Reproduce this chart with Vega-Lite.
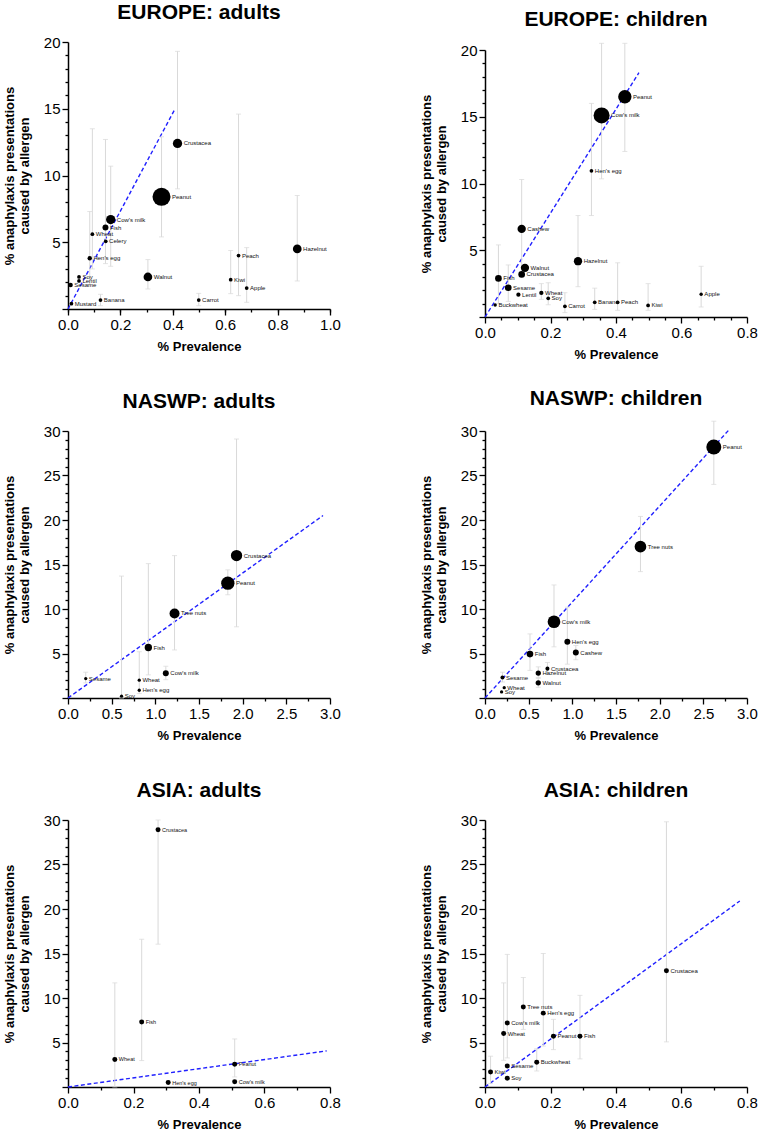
{
  "$schema": "https://vega.github.io/schema/vega-lite/v6.json",
  "padding": {"left": 3, "top": 2, "right": 5, "bottom": 5},
  "background": "white",
  "config": {
    "font": "Liberation Sans",
    "view": {"stroke": null},
    "title": {"font": "Liberation Sans", "fontSize": 21, "fontWeight": "bold", "color": "#000", "frame": "group", "anchor": "middle", "offset": 12},
    "axis": {"grid": false, "domainColor": "#000", "domainWidth": 1.5, "tickColor": "#000", "tickWidth": 1.3, "labelFont": "Liberation Sans", "labelFontSize": 15, "labelColor": "#000", "labelPadding": 2, "labelOverlap": false, "labelFlush": false, "titleFont": "Liberation Sans", "titleFontSize": 13, "titleFontWeight": "bold", "titleColor": "#000", "titleLineHeight": 15}
  },
  "datasets": {
    "fits": [
      {"panel": "EA", "x": 0, "y": 0}, {"panel": "EA", "x": 0.406, "y": 14.9},
      {"panel": "EC", "x": 0, "y": 0}, {"panel": "EC", "x": 0.47, "y": 18.3},
      {"panel": "NA", "x": 0, "y": 0}, {"panel": "NA", "x": 2.92, "y": 20.5},
      {"panel": "NC", "x": 0, "y": 0}, {"panel": "NC", "x": 2.8, "y": 30.2},
      {"panel": "AA", "x": 0, "y": 0}, {"panel": "AA", "x": 0.79, "y": 4.06},
      {"panel": "AC", "x": 0, "y": 0}, {"panel": "AC", "x": 0.778, "y": 20.9}
    ],
    "pts": [
      {"panel": "EA", "allergen": "Crustacea", "x": 0.418, "y": 12.4, "lo": 9.0, "hi": 19.3, "w": 8},
      {"panel": "EA", "allergen": "Peanut", "x": 0.357, "y": 8.4, "lo": 5.4, "hi": 12.9, "w": 30},
      {"panel": "EA", "allergen": "Cow's milk", "x": 0.163, "y": 6.7, "lo": 3.2, "hi": 10.7, "w": 8},
      {"panel": "EA", "allergen": "Fish", "x": 0.143, "y": 6.1, "lo": 3.4, "hi": 12.7, "w": 3.3},
      {"panel": "EA", "allergen": "Wheat", "x": 0.093, "y": 5.6, "lo": 3.0, "hi": 13.5, "w": 1.3},
      {"panel": "EA", "allergen": "Celery", "x": 0.144, "y": 5.07, "lo": null, "hi": null, "w": 1.3},
      {"panel": "EA", "allergen": "Hen's egg", "x": 0.083, "y": 3.8, "lo": 1.8, "hi": 7.3, "w": 1.8},
      {"panel": "EA", "allergen": "Soy", "x": 0.042, "y": 2.4, "lo": null, "hi": null, "w": 1.3},
      {"panel": "EA", "allergen": "Lentil", "x": 0.042, "y": 2.1, "lo": null, "hi": null, "w": 1.3},
      {"panel": "EA", "allergen": "Sesame", "x": 0.01, "y": 1.8, "lo": null, "hi": null, "w": 1.8},
      {"panel": "EA", "allergen": "Mustard", "x": 0.013, "y": 0.4, "lo": null, "hi": null, "w": 1.3},
      {"panel": "EA", "allergen": "Banana", "x": 0.124, "y": 0.67, "lo": 0.25, "hi": 1.1, "w": 1.3},
      {"panel": "EA", "allergen": "Walnut", "x": 0.305, "y": 2.4, "lo": 1.5, "hi": 3.7, "w": 7},
      {"panel": "EA", "allergen": "Carrot", "x": 0.499, "y": 0.67, "lo": 0.25, "hi": 1.17, "w": 1.3},
      {"panel": "EA", "allergen": "Kiwi", "x": 0.621, "y": 2.2, "lo": 1.15, "hi": 4.38, "w": 1.3},
      {"panel": "EA", "allergen": "Peach", "x": 0.651, "y": 4.0, "lo": 1.0, "hi": 14.6, "w": 1.3},
      {"panel": "EA", "allergen": "Apple", "x": 0.682, "y": 1.57, "lo": 0.5, "hi": 4.6, "w": 1.3},
      {"panel": "EA", "allergen": "Hazelnut", "x": 0.875, "y": 4.5, "lo": 2.1, "hi": 8.5, "w": 7},

      {"panel": "EC", "allergen": "Peanut", "x": 0.427, "y": 16.5, "lo": 12.4, "hi": 20.5, "w": 16.5},
      {"panel": "EC", "allergen": "Cow's milk", "x": 0.356, "y": 15.1, "lo": 10.35, "hi": 20.5, "w": 23.7},
      {"panel": "EC", "allergen": "Hen's egg", "x": 0.325, "y": 10.95, "lo": 7.6, "hi": 16.0, "w": 1.3},
      {"panel": "EC", "allergen": "Cashew", "x": 0.112, "y": 6.6, "lo": 3.0, "hi": 10.3, "w": 6.4},
      {"panel": "EC", "allergen": "Hazelnut", "x": 0.284, "y": 4.18, "lo": 2.27, "hi": 7.6, "w": 6.4},
      {"panel": "EC", "allergen": "Walnut", "x": 0.122, "y": 3.68, "lo": null, "hi": null, "w": 6.4},
      {"panel": "EC", "allergen": "Crustacea", "x": 0.112, "y": 3.19, "lo": null, "hi": null, "w": 4.1},
      {"panel": "EC", "allergen": "Fish", "x": 0.041, "y": 2.89, "lo": 1.0, "hi": 5.4, "w": 4.1},
      {"panel": "EC", "allergen": "Sesame", "x": 0.071, "y": 2.19, "lo": 1.17, "hi": 3.9, "w": 4.1},
      {"panel": "EC", "allergen": "Lentil", "x": 0.102, "y": 1.67, "lo": null, "hi": null, "w": 1.7},
      {"panel": "EC", "allergen": "Wheat", "x": 0.172, "y": 1.8, "lo": 1.32, "hi": 2.5, "w": 1.7},
      {"panel": "EC", "allergen": "Soy", "x": 0.193, "y": 1.4, "lo": 0.92, "hi": 2.57, "w": 1.3},
      {"panel": "EC", "allergen": "Carrot", "x": 0.244, "y": 0.8, "lo": 0.33, "hi": 1.82, "w": 1.3},
      {"panel": "EC", "allergen": "Banana", "x": 0.335, "y": 1.1, "lo": 0.57, "hi": 2.16, "w": 1.3},
      {"panel": "EC", "allergen": "Peach", "x": 0.405, "y": 1.1, "lo": 0.5, "hi": 4.06, "w": 1.3},
      {"panel": "EC", "allergen": "Kiwi", "x": 0.498, "y": 0.87, "lo": 0.5, "hi": 2.5, "w": 1.3},
      {"panel": "EC", "allergen": "Apple", "x": 0.66, "y": 1.7, "lo": 0.75, "hi": 3.8, "w": 1.1},
      {"panel": "EC", "allergen": "Buckwheat", "x": 0.031, "y": 0.9, "lo": null, "hi": null, "w": 1.1},

      {"panel": "NA", "allergen": "Crustacea", "x": 1.93, "y": 16.0, "lo": 8.0, "hi": 29.1, "w": 11.9},
      {"panel": "NA", "allergen": "Peanut", "x": 1.83, "y": 12.9, "lo": 11.6, "hi": 14.4, "w": 16.5},
      {"panel": "NA", "allergen": "Tree nuts", "x": 1.22, "y": 9.5, "lo": 5.4, "hi": 16.0, "w": 9.3},
      {"panel": "NA", "allergen": "Fish", "x": 0.92, "y": 5.67, "lo": 2.6, "hi": 15.1, "w": 5},
      {"panel": "NA", "allergen": "Cow's milk", "x": 1.12, "y": 2.78, "lo": 2.06, "hi": 3.57, "w": 3.3},
      {"panel": "NA", "allergen": "Wheat", "x": 0.816, "y": 2.0, "lo": 0.5, "hi": 5.2, "w": 1},
      {"panel": "NA", "allergen": "Hen's egg", "x": 0.816, "y": 0.87, "lo": null, "hi": null, "w": 1},
      {"panel": "NA", "allergen": "Soy", "x": 0.613, "y": 0.2, "lo": 0, "hi": 13.7, "w": 1},
      {"panel": "NA", "allergen": "Sesame", "x": 0.203, "y": 2.18, "lo": 1.7, "hi": 2.9, "w": 1},

      {"panel": "NC", "allergen": "Peanut", "x": 2.62, "y": 28.2, "lo": 24.0, "hi": 31.1, "w": 20.8},
      {"panel": "NC", "allergen": "Tree nuts", "x": 1.78, "y": 17.0, "lo": 14.2, "hi": 20.4, "w": 12.6},
      {"panel": "NC", "allergen": "Cow's milk", "x": 0.79, "y": 8.57, "lo": 5.75, "hi": 12.7, "w": 14.9},
      {"panel": "NC", "allergen": "Hen's egg", "x": 0.943, "y": 6.31, "lo": 3.8, "hi": 10.2, "w": 3.3},
      {"panel": "NC", "allergen": "Cashew", "x": 1.04, "y": 5.1, "lo": 4.3, "hi": 5.9, "w": 3.3},
      {"panel": "NC", "allergen": "Fish", "x": 0.515, "y": 4.93, "lo": 3.1, "hi": 7.2, "w": 4.1},
      {"panel": "NC", "allergen": "Crustacea", "x": 0.715, "y": 3.3, "lo": 2.67, "hi": 4.0, "w": 1.5},
      {"panel": "NC", "allergen": "Hazelnut", "x": 0.61, "y": 2.8, "lo": 2.3, "hi": 3.5, "w": 2.6},
      {"panel": "NC", "allergen": "Walnut", "x": 0.61, "y": 1.7, "lo": 1.2, "hi": 2.2, "w": 2.6},
      {"panel": "NC", "allergen": "Sesame", "x": 0.2, "y": 2.3, "lo": 1.8, "hi": 2.9, "w": 1.5},
      {"panel": "NC", "allergen": "Wheat", "x": 0.22, "y": 1.16, "lo": null, "hi": null, "w": 1},
      {"panel": "NC", "allergen": "Soy", "x": 0.19, "y": 0.68, "lo": null, "hi": null, "w": 1},

      {"panel": "AA", "allergen": "Crustacea", "x": 0.275, "y": 28.9, "lo": 16.05, "hi": 30, "w": 2.3},
      {"panel": "AA", "allergen": "Fish", "x": 0.225, "y": 7.3, "lo": 2.97, "hi": 16.6, "w": 2.3},
      {"panel": "AA", "allergen": "Wheat", "x": 0.143, "y": 3.09, "lo": 0, "hi": 11.7, "w": 2.3},
      {"panel": "AA", "allergen": "Peanut", "x": 0.509, "y": 2.56, "lo": 1.13, "hi": 5.4, "w": 2.3},
      {"panel": "AA", "allergen": "Hen's egg", "x": 0.306, "y": 0.5, "lo": null, "hi": null, "w": 2.3},
      {"panel": "AA", "allergen": "Cow's milk", "x": 0.509, "y": 0.6, "lo": null, "hi": null, "w": 2.3},

      {"panel": "AC", "allergen": "Crustacea", "x": 0.554, "y": 13.05, "lo": 5.07, "hi": 29.8, "w": 2.3},
      {"panel": "AC", "allergen": "Tree nuts", "x": 0.117, "y": 9.0, "lo": 6.47, "hi": 12.3, "w": 2.3},
      {"panel": "AC", "allergen": "Hen's egg", "x": 0.178, "y": 8.3, "lo": 4.6, "hi": 15.0, "w": 2.3},
      {"panel": "AC", "allergen": "Cow's milk", "x": 0.068, "y": 7.2, "lo": 3.27, "hi": 14.9, "w": 2.3},
      {"panel": "AC", "allergen": "Wheat", "x": 0.057, "y": 6.0, "lo": 3.0, "hi": 11.7, "w": 2.3},
      {"panel": "AC", "allergen": "Peanut", "x": 0.209, "y": 5.7, "lo": 4.2, "hi": 7.6, "w": 2.3},
      {"panel": "AC", "allergen": "Fish", "x": 0.29, "y": 5.7, "lo": 3.16, "hi": 10.3, "w": 2.3},
      {"panel": "AC", "allergen": "Buckwheat", "x": 0.158, "y": 2.78, "lo": 1.8, "hi": 4.3, "w": 2.3},
      {"panel": "AC", "allergen": "Sesame", "x": 0.068, "y": 2.37, "lo": null, "hi": null, "w": 2.3},
      {"panel": "AC", "allergen": "Kiwi", "x": 0.017, "y": 1.69, "lo": 0.4, "hi": 3.46, "w": 2.3},
      {"panel": "AC", "allergen": "Soy", "x": 0.068, "y": 0.98, "lo": null, "hi": null, "w": 2.3}
    ]
  },
  "columns": 2,
  "spacing": {"row": 122, "column": 155},
  "bounds": "flush",
  "concat": [
    {
      "title": "EUROPE: adults", "width": 262, "height": 267,
      "resolve": {"axis": {"x": "independent", "y": "independent"}},
      "layer": [
        {"data": {"name": "fits"}, "transform": [{"filter": "datum.panel == 'EA'"}],
         "mark": {"type": "line", "color": "#2020ff", "strokeDash": [4, 2.5], "strokeWidth": 1.4},
         "encoding": {
           "x": {"field": "x", "type": "quantitative", "scale": {"domain": [0, 1], "nice": false},
                 "axis": {"orient": "bottom", "title": "% Prevalence", "values": [0, 0.2, 0.4, 0.6, 0.8, 1.0], "format": ".1f", "tickSize": 6, "titlePadding": 8}},
           "y": {"field": "y", "type": "quantitative", "scale": {"domain": [0, 20], "nice": false},
                 "axis": {"orient": "left", "title": ["% anaphylaxis presentations", "caused by allergen"], "values": [0, 5, 10, 15, 20], "labelExpr": "datum.value > 0 ? datum.label : ''", "tickSize": 6, "titlePadding": 12}}}},
        {"data": {"name": "pts"}, "transform": [{"filter": "datum.panel == 'EA' && isValid(datum.lo)"}],
         "mark": {"type": "errorbar", "color": "#d9d9d9", "ticks": {"size": 5, "color": "#d9d9d9"}, "rule": {"color": "#d9d9d9", "strokeWidth": 1}},
         "encoding": {"x": {"field": "x", "type": "quantitative", "axis": null}, "y": {"field": "lo", "type": "quantitative", "axis": null}, "y2": {"field": "hi"}}},
        {"data": {"name": "pts"}, "transform": [{"filter": "datum.panel == 'EA'"}],
         "mark": {"type": "circle", "color": "#000", "opacity": 1},
         "encoding": {
           "x": {"field": "x", "type": "quantitative", "axis": {"orient": "bottom", "title": null, "labels": false, "domain": false, "tickSize": 3, "values": [0, 0.1, 0.2, 0.3, 0.4, 0.5, 0.6, 0.7, 0.8, 0.9, 1.0]}},
           "y": {"field": "y", "type": "quantitative", "axis": {"orient": "left", "title": null, "labels": false, "domain": false, "tickSize": 3, "values": [1,2,3,4,6,7,8,9,11,12,13,14,16,17,18,19]}},
           "size": {"field": "w", "type": "quantitative", "scale": {"domain": [0, 30], "range": [0, 324]}, "legend": null}}},
        {"data": {"name": "pts"}, "transform": [{"filter": "datum.panel == 'EA'"}],
         "mark": {"type": "text", "align": "left", "baseline": "middle", "fontSize": 6, "color": "#111", "dx": {"expr": "sqrt(10.8*datum.w)/2+1.5"}},
         "encoding": {"x": {"field": "x", "type": "quantitative", "axis": null}, "y": {"field": "y", "type": "quantitative", "axis": null}, "text": {"field": "allergen"}}}
      ]
    },
    {
      "title": "EUROPE: children", "width": 262, "height": 267,
      "resolve": {"axis": {"x": "independent", "y": "independent"}},
      "layer": [
        {"data": {"name": "fits"}, "transform": [{"filter": "datum.panel == 'EC'"}],
         "mark": {"type": "line", "color": "#2020ff", "strokeDash": [4, 2.5], "strokeWidth": 1.4},
         "encoding": {
           "x": {"field": "x", "type": "quantitative", "scale": {"domain": [0, 0.8], "nice": false},
                 "axis": {"orient": "bottom", "offset": 8, "title": "% Prevalence", "values": [0, 0.2, 0.4, 0.6, 0.8], "format": ".1f", "tickSize": 6, "titlePadding": 8}},
           "y": {"field": "y", "type": "quantitative", "scale": {"domain": [0, 20], "nice": false, "range": [275, 8]},
                 "axis": {"orient": "left", "title": ["% anaphylaxis presentations", "caused by allergen"], "values": [0, 5, 10, 15, 20], "labelExpr": "datum.value > 0 ? datum.label : ''", "tickSize": 6, "titlePadding": 12}}}},
        {"data": {"name": "pts"}, "transform": [{"filter": "datum.panel == 'EC' && isValid(datum.lo)"}],
         "mark": {"type": "errorbar", "color": "#d9d9d9", "ticks": {"size": 5, "color": "#d9d9d9"}, "rule": {"color": "#d9d9d9", "strokeWidth": 1}},
         "encoding": {"x": {"field": "x", "type": "quantitative", "axis": null}, "y": {"field": "lo", "type": "quantitative", "axis": null}, "y2": {"field": "hi"}}},
        {"data": {"name": "pts"}, "transform": [{"filter": "datum.panel == 'EC'"}],
         "mark": {"type": "circle", "color": "#000", "opacity": 1},
         "encoding": {
           "x": {"field": "x", "type": "quantitative", "axis": {"orient": "bottom", "offset": 8, "title": null, "labels": false, "domain": false, "tickSize": 3, "values": [0.05, 0.1, 0.15, 0.25, 0.3, 0.35, 0.45, 0.5, 0.55, 0.65, 0.7, 0.75]}},
           "y": {"field": "y", "type": "quantitative", "axis": {"orient": "left", "title": null, "labels": false, "domain": false, "tickSize": 3, "values": [1,2,3,4,6,7,8,9,11,12,13,14,16,17,18,19]}},
           "size": {"field": "w", "type": "quantitative", "scale": {"domain": [0, 30], "range": [0, 324]}, "legend": null}}},
        {"data": {"name": "pts"}, "transform": [{"filter": "datum.panel == 'EC'"}],
         "mark": {"type": "text", "align": "left", "baseline": "middle", "fontSize": 6, "color": "#111", "dx": {"expr": "sqrt(10.8*datum.w)/2+1.5"}},
         "encoding": {"x": {"field": "x", "type": "quantitative", "axis": null}, "y": {"field": "y", "type": "quantitative", "axis": null}, "text": {"field": "allergen"}}}
      ]
    },
    {
      "title": "NASWP: adults", "width": 262, "height": 267,
      "resolve": {"axis": {"x": "independent", "y": "independent"}},
      "layer": [
        {"data": {"name": "fits"}, "transform": [{"filter": "datum.panel == 'NA'"}],
         "mark": {"type": "line", "color": "#2020ff", "strokeDash": [4, 2.5], "strokeWidth": 1.4},
         "encoding": {
           "x": {"field": "x", "type": "quantitative", "scale": {"domain": [0, 3], "nice": false},
                 "axis": {"orient": "bottom", "title": "% Prevalence", "values": [0, 0.5, 1, 1.5, 2, 2.5, 3], "format": ".1f", "tickSize": 6, "titlePadding": 8}},
           "y": {"field": "y", "type": "quantitative", "scale": {"domain": [0, 30], "nice": false},
                 "axis": {"orient": "left", "title": ["% anaphylaxis presentations", "caused by allergen"], "values": [0, 5, 10, 15, 20, 25, 30], "labelExpr": "datum.value > 0 ? datum.label : ''", "tickSize": 6, "titlePadding": 12}}}},
        {"data": {"name": "pts"}, "transform": [{"filter": "datum.panel == 'NA' && isValid(datum.lo)"}],
         "mark": {"type": "errorbar", "color": "#d9d9d9", "ticks": {"size": 5, "color": "#d9d9d9"}, "rule": {"color": "#d9d9d9", "strokeWidth": 1}},
         "encoding": {"x": {"field": "x", "type": "quantitative", "axis": null}, "y": {"field": "lo", "type": "quantitative", "axis": null}, "y2": {"field": "hi"}}},
        {"data": {"name": "pts"}, "transform": [{"filter": "datum.panel == 'NA'"}],
         "mark": {"type": "circle", "color": "#000", "opacity": 1},
         "encoding": {
           "x": {"field": "x", "type": "quantitative", "axis": {"orient": "bottom", "title": null, "labels": false, "domain": false, "tickSize": 3, "values": [0.25, 0.75, 1.25, 1.75, 2.25, 2.75]}},
           "y": {"field": "y", "type": "quantitative", "axis": {"orient": "left", "title": null, "labels": false, "domain": false, "tickSize": 3, "values": [1,2,3,4,6,7,8,9,11,12,13,14,16,17,18,19,21,22,23,24,26,27,28,29]}},
           "size": {"field": "w", "type": "quantitative", "scale": {"domain": [0, 30], "range": [0, 324]}, "legend": null}}},
        {"data": {"name": "pts"}, "transform": [{"filter": "datum.panel == 'NA'"}],
         "mark": {"type": "text", "align": "left", "baseline": "middle", "fontSize": 6, "color": "#111", "dx": {"expr": "sqrt(10.8*datum.w)/2+1.5"}},
         "encoding": {"x": {"field": "x", "type": "quantitative", "axis": null}, "y": {"field": "y", "type": "quantitative", "axis": null}, "text": {"field": "allergen"}}}
      ]
    },
    {
      "title": "NASWP: children", "width": 262, "height": 267,
      "resolve": {"axis": {"x": "independent", "y": "independent"}},
      "layer": [
        {"data": {"name": "fits"}, "transform": [{"filter": "datum.panel == 'NC'"}],
         "mark": {"type": "line", "color": "#2020ff", "strokeDash": [4, 2.5], "strokeWidth": 1.4},
         "encoding": {
           "x": {"field": "x", "type": "quantitative", "scale": {"domain": [0, 3], "nice": false},
                 "axis": {"orient": "bottom", "title": "% Prevalence", "values": [0, 0.5, 1, 1.5, 2, 2.5, 3], "format": ".1f", "tickSize": 6, "titlePadding": 8}},
           "y": {"field": "y", "type": "quantitative", "scale": {"domain": [0, 30], "nice": false},
                 "axis": {"orient": "left", "title": ["% anaphylaxis presentations", "caused by allergen"], "values": [0, 5, 10, 15, 20, 25, 30], "labelExpr": "datum.value > 0 ? datum.label : ''", "tickSize": 6, "titlePadding": 12}}}},
        {"data": {"name": "pts"}, "transform": [{"filter": "datum.panel == 'NC' && isValid(datum.lo)"}],
         "mark": {"type": "errorbar", "color": "#d9d9d9", "ticks": {"size": 5, "color": "#d9d9d9"}, "rule": {"color": "#d9d9d9", "strokeWidth": 1}},
         "encoding": {"x": {"field": "x", "type": "quantitative", "axis": null}, "y": {"field": "lo", "type": "quantitative", "axis": null}, "y2": {"field": "hi"}}},
        {"data": {"name": "pts"}, "transform": [{"filter": "datum.panel == 'NC'"}],
         "mark": {"type": "circle", "color": "#000", "opacity": 1},
         "encoding": {
           "x": {"field": "x", "type": "quantitative", "axis": {"orient": "bottom", "title": null, "labels": false, "domain": false, "tickSize": 3, "values": [0.25, 0.75, 1.25, 1.75, 2.25, 2.75]}},
           "y": {"field": "y", "type": "quantitative", "axis": {"orient": "left", "title": null, "labels": false, "domain": false, "tickSize": 3, "values": [1,2,3,4,6,7,8,9,11,12,13,14,16,17,18,19,21,22,23,24,26,27,28,29]}},
           "size": {"field": "w", "type": "quantitative", "scale": {"domain": [0, 30], "range": [0, 324]}, "legend": null}}},
        {"data": {"name": "pts"}, "transform": [{"filter": "datum.panel == 'NC'"}],
         "mark": {"type": "text", "align": "left", "baseline": "middle", "fontSize": 6, "color": "#111", "dx": {"expr": "sqrt(10.8*datum.w)/2+1.5"}},
         "encoding": {"x": {"field": "x", "type": "quantitative", "axis": null}, "y": {"field": "y", "type": "quantitative", "axis": null}, "text": {"field": "allergen"}}}
      ]
    },
    {
      "title": "ASIA: adults", "width": 262, "height": 267,
      "resolve": {"axis": {"x": "independent", "y": "independent"}},
      "layer": [
        {"data": {"name": "fits"}, "transform": [{"filter": "datum.panel == 'AA'"}],
         "mark": {"type": "line", "color": "#2020ff", "strokeDash": [4, 2.5], "strokeWidth": 1.4},
         "encoding": {
           "x": {"field": "x", "type": "quantitative", "scale": {"domain": [0, 0.8], "nice": false},
                 "axis": {"orient": "bottom", "title": "% Prevalence", "values": [0, 0.2, 0.4, 0.6, 0.8], "format": ".1f", "tickSize": 6, "titlePadding": 8}},
           "y": {"field": "y", "type": "quantitative", "scale": {"domain": [0, 30], "nice": false},
                 "axis": {"orient": "left", "title": ["% anaphylaxis presentations", "caused by allergen"], "values": [0, 5, 10, 15, 20, 25, 30], "labelExpr": "datum.value > 0 ? datum.label : ''", "tickSize": 6, "titlePadding": 12}}}},
        {"data": {"name": "pts"}, "transform": [{"filter": "datum.panel == 'AA' && isValid(datum.lo)"}],
         "mark": {"type": "errorbar", "color": "#d9d9d9", "ticks": {"size": 5, "color": "#d9d9d9"}, "rule": {"color": "#d9d9d9", "strokeWidth": 1}},
         "encoding": {"x": {"field": "x", "type": "quantitative", "axis": null}, "y": {"field": "lo", "type": "quantitative", "axis": null}, "y2": {"field": "hi"}}},
        {"data": {"name": "pts"}, "transform": [{"filter": "datum.panel == 'AA'"}],
         "mark": {"type": "circle", "color": "#000", "opacity": 1},
         "encoding": {
           "x": {"field": "x", "type": "quantitative", "axis": {"orient": "bottom", "title": null, "labels": false, "domain": false, "tickSize": 3, "values": [0.1, 0.3, 0.5, 0.7]}},
           "y": {"field": "y", "type": "quantitative", "axis": {"orient": "left", "title": null, "labels": false, "domain": false, "tickSize": 3, "values": [1,2,3,4,6,7,8,9,11,12,13,14,16,17,18,19,21,22,23,24,26,27,28,29]}},
           "size": {"field": "w", "type": "quantitative", "scale": {"domain": [0, 30], "range": [0, 324]}, "legend": null}}},
        {"data": {"name": "pts"}, "transform": [{"filter": "datum.panel == 'AA'"}],
         "mark": {"type": "text", "align": "left", "baseline": "middle", "fontSize": 5.5, "color": "#111", "dx": {"expr": "sqrt(10.8*datum.w)/2+1.5"}},
         "encoding": {"x": {"field": "x", "type": "quantitative", "axis": null}, "y": {"field": "y", "type": "quantitative", "axis": null}, "text": {"field": "allergen"}}}
      ]
    },
    {
      "title": "ASIA: children", "width": 262, "height": 267,
      "resolve": {"axis": {"x": "independent", "y": "independent"}},
      "layer": [
        {"data": {"name": "fits"}, "transform": [{"filter": "datum.panel == 'AC'"}],
         "mark": {"type": "line", "color": "#2020ff", "strokeDash": [4, 2.5], "strokeWidth": 1.4},
         "encoding": {
           "x": {"field": "x", "type": "quantitative", "scale": {"domain": [0, 0.8], "nice": false},
                 "axis": {"orient": "bottom", "title": "% Prevalence", "values": [0, 0.2, 0.4, 0.6, 0.8], "format": ".1f", "tickSize": 6, "titlePadding": 8}},
           "y": {"field": "y", "type": "quantitative", "scale": {"domain": [0, 30], "nice": false},
                 "axis": {"orient": "left", "title": ["% anaphylaxis presentations", "caused by allergen"], "values": [0, 5, 10, 15, 20, 25, 30], "labelExpr": "datum.value > 0 ? datum.label : ''", "tickSize": 6, "titlePadding": 12}}}},
        {"data": {"name": "pts"}, "transform": [{"filter": "datum.panel == 'AC' && isValid(datum.lo)"}],
         "mark": {"type": "errorbar", "color": "#d9d9d9", "ticks": {"size": 5, "color": "#d9d9d9"}, "rule": {"color": "#d9d9d9", "strokeWidth": 1}},
         "encoding": {"x": {"field": "x", "type": "quantitative", "axis": null}, "y": {"field": "lo", "type": "quantitative", "axis": null}, "y2": {"field": "hi"}}},
        {"data": {"name": "pts"}, "transform": [{"filter": "datum.panel == 'AC'"}],
         "mark": {"type": "circle", "color": "#000", "opacity": 1},
         "encoding": {
           "x": {"field": "x", "type": "quantitative", "axis": {"orient": "bottom", "title": null, "labels": false, "domain": false, "tickSize": 3, "values": [0.1, 0.3, 0.5, 0.7]}},
           "y": {"field": "y", "type": "quantitative", "axis": {"orient": "left", "title": null, "labels": false, "domain": false, "tickSize": 3, "values": [1,2,3,4,6,7,8,9,11,12,13,14,16,17,18,19,21,22,23,24,26,27,28,29]}},
           "size": {"field": "w", "type": "quantitative", "scale": {"domain": [0, 30], "range": [0, 324]}, "legend": null}}},
        {"data": {"name": "pts"}, "transform": [{"filter": "datum.panel == 'AC'"}],
         "mark": {"type": "text", "align": "left", "baseline": "middle", "fontSize": 6, "color": "#111", "dx": {"expr": "sqrt(10.8*datum.w)/2+1.5"}},
         "encoding": {"x": {"field": "x", "type": "quantitative", "axis": null}, "y": {"field": "y", "type": "quantitative", "axis": null}, "text": {"field": "allergen"}}}
      ]
    }
  ]
}
